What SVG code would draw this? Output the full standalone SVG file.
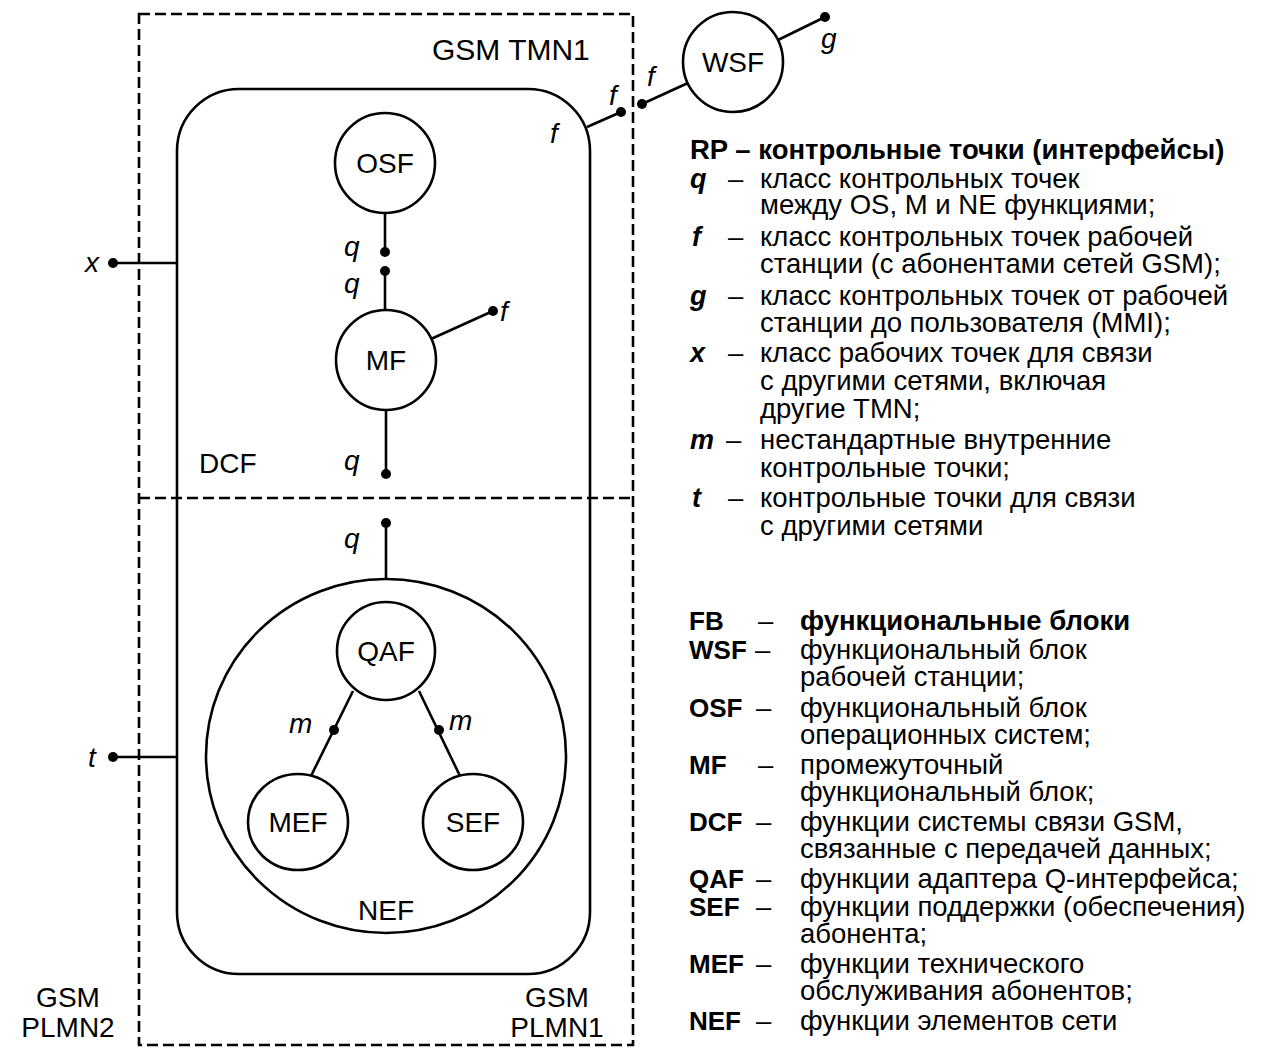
<svg xmlns="http://www.w3.org/2000/svg" width="1269" height="1050" viewBox="0 0 1269 1050">
<style>
.ln{stroke:#000;stroke-width:2.6;fill:none}
.dash{stroke:#000;stroke-width:2.6;fill:none;stroke-dasharray:11 5}
.dot{fill:#000}
.lbl{font-family:"Liberation Sans",Arial,sans-serif;font-size:28px;fill:#000}
.nl{font-family:"Liberation Sans",Arial,sans-serif;font-size:28px;fill:#000;text-anchor:middle}
.it{font-family:"Liberation Sans",Arial,sans-serif;font-size:28px;font-style:italic;fill:#000}
.lg{font-family:"Liberation Sans",Arial,sans-serif;font-size:27.5px;fill:#000}
.lgb{font-family:"Liberation Sans",Arial,sans-serif;font-size:27.5px;font-weight:bold;fill:#000}
.ab{font-family:"Liberation Sans",Arial,sans-serif;font-size:26px;font-weight:bold;fill:#000}
.lgi{font-family:"Liberation Sans",Arial,sans-serif;font-size:27px;font-weight:bold;font-style:italic;fill:#000}
</style>
<rect width="1269" height="1050" fill="#fff"/>
<g id="frames">
<rect class="dash" x="139" y="14" width="494" height="1031"/>
<line class="dash" x1="139" y1="498" x2="633" y2="498"/>
<text class="lbl" x="432" y="60" style="font-size:30px">GSM TMN1</text>
<text class="nl" x="68" y="1007">GSM</text>
<text class="nl" x="68" y="1037">PLMN2</text>
<text class="nl" x="557" y="1007">GSM</text>
<text class="nl" x="557" y="1037">PLMN1</text>
</g>
<g id="DCF">
<rect class="ln" x="177" y="89" width="413" height="885" rx="62" ry="62"/>
<text class="lbl" x="199" y="473">DCF</text>
</g>
<g id="OSF">
<circle class="ln" cx="385" cy="163" r="50"/>
<text class="nl" x="385" y="173">OSF</text>
</g>
<g id="MF">
<circle class="ln" cx="386" cy="360" r="50"/>
<text class="nl" x="386" y="370">MF</text>
</g>
<g id="WSF">
<circle class="ln" cx="733" cy="62" r="50"/>
<text class="nl" x="733" y="72">WSF</text>
</g>
<g id="NEF">
<ellipse class="ln" cx="386" cy="756" rx="180" ry="177"/>
<text class="nl" x="386" y="920">NEF</text>
</g>
<g id="QAF">
<circle class="ln" cx="386" cy="651" r="49"/>
<text class="nl" x="386" y="661">QAF</text>
</g>
<g id="MEF">
<ellipse class="ln" cx="298" cy="822" rx="50" ry="48"/>
<text class="nl" x="298" y="832">MEF</text>
</g>
<g id="SEF">
<ellipse class="ln" cx="473" cy="822" rx="50" ry="48"/>
<text class="nl" x="473" y="832">SEF</text>
</g>
<g id="connectors">
<line class="ln" x1="385" y1="213" x2="385" y2="252"/>
<circle class="dot" cx="385" cy="252" r="5"/>
<circle class="dot" cx="385" cy="271" r="5"/>
<line class="ln" x1="385" y1="271" x2="385" y2="310"/>
<line class="ln" x1="386" y1="410" x2="386" y2="474"/>
<circle class="dot" cx="386" cy="474" r="5"/>
<line class="ln" x1="431" y1="339" x2="493" y2="311"/>
<circle class="dot" cx="493" cy="311" r="5"/>
<line class="ln" x1="113" y1="263" x2="177" y2="263"/>
<circle class="dot" cx="113" cy="263" r="5"/>
<line class="ln" x1="113" y1="757" x2="177" y2="757"/>
<circle class="dot" cx="113" cy="757" r="5"/>
<line class="ln" x1="587" y1="127" x2="621" y2="112"/>
<circle class="dot" cx="621" cy="112" r="5"/>
<line class="ln" x1="642" y1="104" x2="688" y2="83"/>
<circle class="dot" cx="642" cy="104" r="5"/>
<line class="ln" x1="778" y1="40" x2="825" y2="17"/>
<circle class="dot" cx="825" cy="17" r="5"/>
<line class="ln" x1="386" y1="523" x2="386" y2="579"/>
<circle class="dot" cx="386" cy="523" r="5"/>
<line class="ln" x1="353" y1="691" x2="311" y2="776"/>
<circle class="dot" cx="334" cy="730" r="5"/>
<line class="ln" x1="419" y1="691" x2="460" y2="776"/>
<circle class="dot" cx="439" cy="730" r="5"/>
<text class="it" x="344" y="256">q</text>
<text class="it" x="344" y="293">q</text>
<text class="it" x="344" y="470">q</text>
<text class="it" x="344" y="548">q</text>
<text class="it" x="550" y="143">f</text>
<text class="it" x="609" y="105">f</text>
<text class="it" x="647" y="86">f</text>
<text class="it" x="500" y="321">f</text>
<text class="it" x="821" y="48">g</text>
<text class="it" x="85" y="272">x</text>
<text class="it" x="88" y="767">t</text>
<text class="it" x="289" y="733">m</text>
<text class="it" x="449" y="730">m</text>
</g>
<g id="legend-rp">
<text class="lgb" x="690" y="159">RP – контрольные точки (интерфейсы)</text>
<text class="lgi" x="690" y="188">q</text><text class="lg" x="728" y="188">–</text>
<text class="lg" x="760" y="188">класс контрольных точек</text>
<text class="lg" x="760" y="214">между OS, M и NE функциями;</text>
<text class="lgi" x="692" y="246">f</text><text class="lg" x="728" y="246">–</text>
<text class="lg" x="760" y="246">класс контрольных точек рабочей</text>
<text class="lg" x="760" y="273">станции (с абонентами сетей GSM);</text>
<text class="lgi" x="690" y="305">g</text><text class="lg" x="728" y="305">–</text>
<text class="lg" x="760" y="305">класс контрольных точек от рабочей</text>
<text class="lg" x="760" y="332">станции до пользователя (MMI);</text>
<text class="lgi" x="690" y="362">x</text><text class="lg" x="728" y="362">–</text>
<text class="lg" x="760" y="362">класс рабочих точек для связи</text>
<text class="lg" x="760" y="390">с другими сетями, включая</text>
<text class="lg" x="760" y="418">другие TMN;</text>
<text class="lgi" x="690" y="449">m</text><text class="lg" x="726" y="449">–</text>
<text class="lg" x="760" y="449">нестандартные внутренние</text>
<text class="lg" x="760" y="477">контрольные точки;</text>
<text class="lgi" x="692" y="507">t</text><text class="lg" x="728" y="507">–</text>
<text class="lg" x="760" y="507">контрольные точки для связи</text>
<text class="lg" x="760" y="535">с другими сетями</text>
</g>
<g id="legend-fb">
<text class="ab" x="689" y="630">FB</text><text class="lg" x="758" y="630">–</text>
<text class="lgb" x="800" y="630">функциональные блоки</text>
<text class="ab" x="689" y="659">WSF</text><text class="lg" x="755" y="659">–</text>
<text class="lg" x="800" y="659">функциональный блок</text>
<text class="lg" x="800" y="686">рабочей станции;</text>
<text class="ab" x="689" y="717">OSF</text><text class="lg" x="756" y="717">–</text>
<text class="lg" x="800" y="717">функциональный блок</text>
<text class="lg" x="800" y="744">операционных систем;</text>
<text class="ab" x="689" y="774">MF</text><text class="lg" x="758" y="774">–</text>
<text class="lg" x="800" y="774">промежуточный</text>
<text class="lg" x="800" y="801">функциональный блок;</text>
<text class="ab" x="689" y="831">DCF</text><text class="lg" x="756" y="831">–</text>
<text class="lg" x="800" y="831">функции системы связи GSM,</text>
<text class="lg" x="800" y="858">связанные с передачей данных;</text>
<text class="ab" x="689" y="888">QAF</text><text class="lg" x="756" y="888">–</text>
<text class="lg" x="800" y="888">функции адаптера Q-интерфейса;</text>
<text class="ab" x="689" y="916">SEF</text><text class="lg" x="756" y="916">–</text>
<text class="lg" x="800" y="916">функции поддержки (обеспечения)</text>
<text class="lg" x="800" y="943">абонента;</text>
<text class="ab" x="689" y="973">MEF</text><text class="lg" x="756" y="973">–</text>
<text class="lg" x="800" y="973">функции технического</text>
<text class="lg" x="800" y="1000">обслуживания абонентов;</text>
<text class="ab" x="689" y="1030">NEF</text><text class="lg" x="756" y="1030">–</text>
<text class="lg" x="800" y="1030">функции элементов сети</text>
</g>
</svg>
